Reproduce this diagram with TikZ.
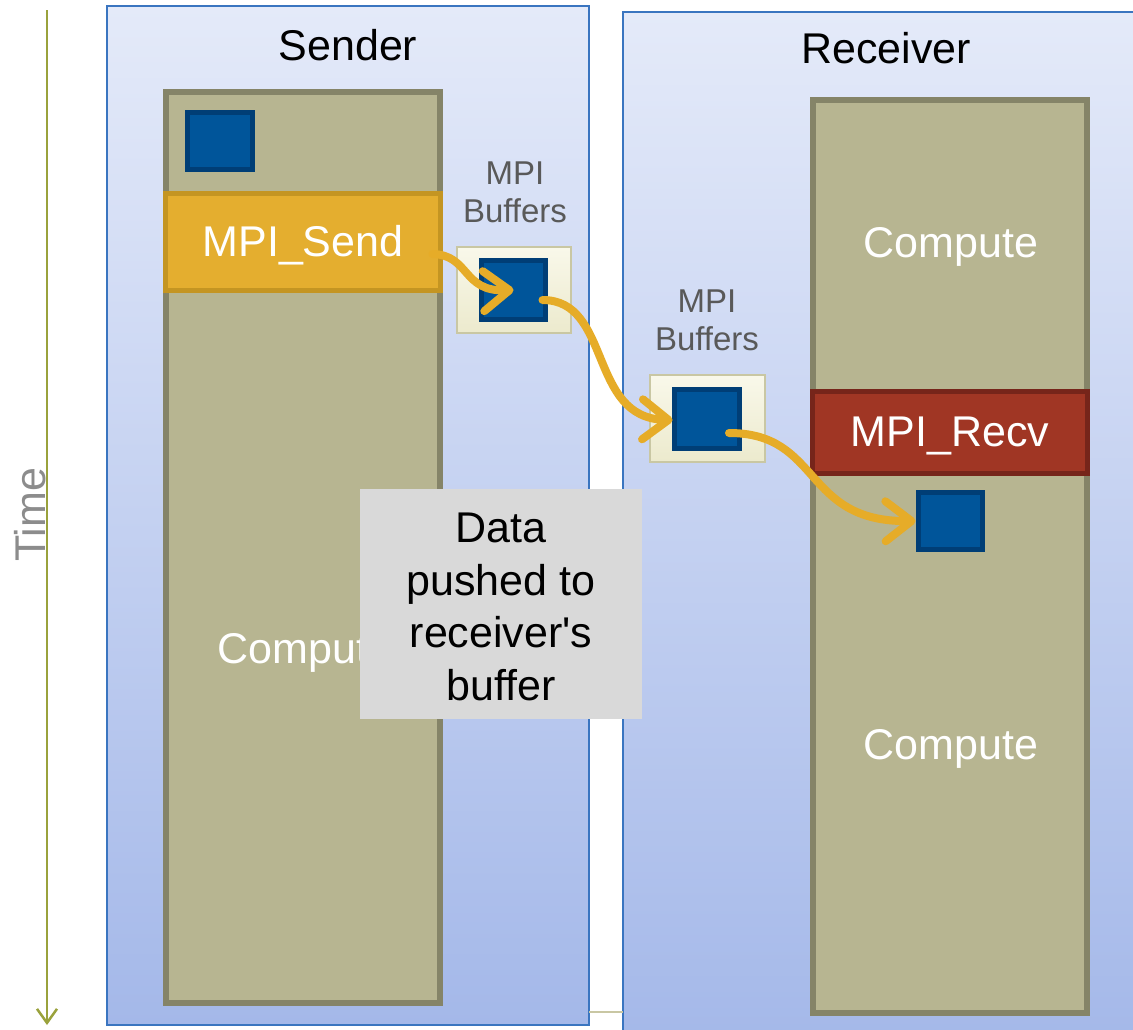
\documentclass[tikz,border=0pt]{standalone}
\usepackage{fontspec}
\setmainfont{Liberation Sans}
\usetikzlibrary{arrows.meta,calc}
\definecolor{panelTop}{HTML}{E4EAF9}
\definecolor{panelBot}{HTML}{A4B8E9}
\definecolor{panelEdge}{HTML}{3A75C0}
\definecolor{compFill}{HTML}{B7B591}
\definecolor{compEdge}{HTML}{858468}
\definecolor{sendFill}{HTML}{E4AE2F}
\definecolor{sendEdge}{HTML}{C49522}
\definecolor{recvFill}{HTML}{A03624}
\definecolor{recvEdge}{HTML}{76251A}
\definecolor{sqFill}{HTML}{00559A}
\definecolor{sqEdge}{HTML}{003E76}
\definecolor{bufTop}{HTML}{F9F8EA}
\definecolor{bufBot}{HTML}{ECEACD}
\definecolor{bufEdge}{HTML}{C9C7A3}
\definecolor{noteFill}{HTML}{D9D9D9}
\definecolor{arrGold}{HTML}{E6AC28}
\definecolor{timeCol}{HTML}{9AA23C}
\definecolor{timeTxt}{HTML}{8C8C8C}
\definecolor{bufTxt}{HTML}{595959}
\tikzset{
  panel/.style={draw=panelEdge, line width=1.5pt, top color=panelTop, bottom color=panelBot, inner sep=0pt, outer sep=0pt},
  compcol/.style={draw=compEdge, fill=compFill, line width=6pt, inner sep=0pt, outer sep=0pt},
  sendbox/.style={draw=sendEdge, fill=sendFill, line width=5pt, inner sep=0pt, outer sep=0pt},
  recvbox/.style={draw=recvEdge, fill=recvFill, line width=5pt, inner sep=0pt, outer sep=0pt},
  datasq/.style={draw=sqEdge, fill=sqFill, line width=5pt, inner sep=0pt, outer sep=0pt},
  bufbox/.style={draw=bufEdge, line width=1.2pt, top color=bufTop, bottom color=bufBot, inner sep=0pt, outer sep=0pt},
  bigtxt/.style={font=\fontsize{43}{50}\selectfont},
  buftxt/.style={font=\fontsize{33}{38}\selectfont, text=bufTxt, align=center},
  notebox/.style={fill=noteFill, inner sep=0pt, outer sep=0pt},
  flow/.style={draw=arrGold, line width=8pt, line cap=round, -{Straight Barb[length=26pt,width=40pt,line width=8pt,round]}},
}
\begin{document}
\begin{tikzpicture}[x=1pt,y=-1pt]
\useasboundingbox (0,0) rectangle (1133,1029);
\clip (0,0) rectangle (1133,1029);
\fill[white] (0,0) rectangle (1133,1029);

% Time axis
\coordinate (t0) at (47,10);
\coordinate (t1) at (47,1025);
\draw[timeCol, line width=2.5pt, -{Straight Barb[length=14pt,width=20pt,line width=2.5pt]}] (t0) -- (t1);
\node[rotate=90, text=timeTxt, bigtxt] (timelbl) at (30,515) {Time};

% panels
\node[panel, minimum width=482, minimum height=1019] (sender) at (348,515.5) {};
\node[panel, minimum width=522, minimum height=1036] (receiver) at (884,530) {};
\coordinate (g0) at (589,1012);
\coordinate (g1) at (623,1012);
\draw[bufEdge, line width=2pt] (g0) -- (g1);

\node[bigtxt] (sendlbl) at (348,45) {Sender};
\node[bigtxt] (recvlbl) at (886,48) {Receiver};

% compute columns
\node[compcol, minimum width=274, minimum height=911] (scomp) at (303,547.5) {};
\node[compcol, minimum width=274, minimum height=913] (rcomp) at (950,556.5) {};

\node[sendbox, minimum width=275, minimum height=97] (send) at (303,242) {};
\node[text=white, bigtxt] (sendtxt) at (303,245) {MPI\_Send};
\node[recvbox, minimum width=275, minimum height=82] (recv) at (950,432) {};
\node[text=white, bigtxt] (recvtxt) at (950,436) {MPI\_Recv};

\node[text=white, bigtxt] (rc1) at (951,247) {Compute};
\node[text=white, bigtxt] (rc2) at (951,749) {Compute};
\node[text=white, bigtxt] (sc1) at (305,653) {Compute};

% data squares
\node[datasq, minimum width=65, minimum height=57] (ssq) at (220,141) {};

\node[bufbox, minimum width=114, minimum height=86] (buf1) at (514,290) {};
\node[datasq, minimum width=64, minimum height=59] (b1sq) at (513.5,290) {};
\node[buftxt] (buf1lbl) at (515,192) {MPI\\Buffers};

\node[bufbox, minimum width=115, minimum height=87] (buf2) at (707.5,418.5) {};
\node[datasq, minimum width=65, minimum height=59] (b2sq) at (707,419) {};
\node[buftxt] (buf2lbl) at (707,320) {MPI\\Buffers};

\node[datasq, minimum width=64, minimum height=57] (rsq) at (950.5,521) {};

% note
\node[notebox, minimum width=282, minimum height=230] (note) at (501,604) {};
\node[align=center, font=\fontsize{43}{52.5}\selectfont] (notetxt) at (501,607) {Data\\pushed to\\receiver\textquotesingle s\\buffer};

% flows
\draw[flow] ($(send.east)+(-8,12)$) .. controls (470,255) and (462,292) .. (b1sq.center);
\draw[flow] ($(b1sq.east)+(-3,10)$) .. controls (612,300) and (588,418) .. ($(b2sq.west)+(-2,1)$);
\draw[flow] ($(b2sq.center)+(22,14)$) .. controls (822,433) and (802,522) .. ($(rsq.west)+(-3,0)$);
\end{tikzpicture}
\end{document}
